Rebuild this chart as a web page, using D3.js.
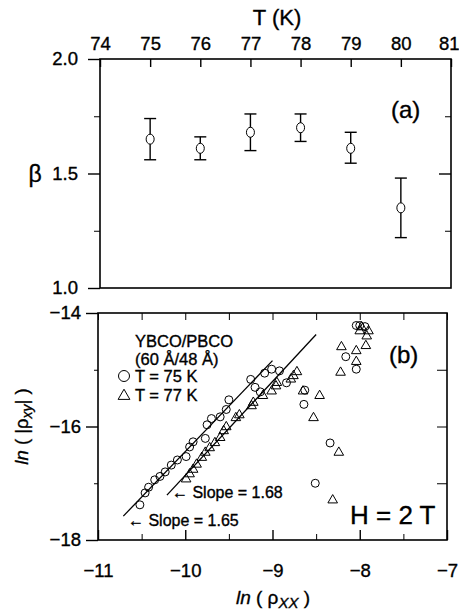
<!DOCTYPE html>
<html>
<head>
<meta charset="utf-8">
<script src="https://cdn.jsdelivr.net/npm/d3@7/dist/d3.min.js"></script>
<style>
  body { margin: 0; background: #fff; }
  svg { display: block; font-family: "Liberation Sans", Arial, sans-serif; }
  svg text { stroke: #000; stroke-width: 0.35px; fill: #000; }
</style>
</head>
<body>
<svg width="459" height="614"></svg>
<script>
// panel (a): beta vs temperature
const temps = [75, 76, 77, 78, 79, 80];
const beta = [1.65, 1.61, 1.68, 1.70, 1.61, 1.35];
const betaHigh = [1.74, 1.66, 1.76, 1.76, 1.68, 1.48];
const betaLow = [1.56, 1.56, 1.60, 1.64, 1.545, 1.22];
const tempTicks = [74, 75, 76, 77, 78, 79, 80, 81];
const betaTicks = [1.0, 1.5, 2.0];
const betaMinor = [1.25, 1.75];

// panel (b): ln|rho_xy| vs ln rho_xx
const x75 = [-10.52, -10.46, -10.42, -10.35, -10.29, -10.23, -10.16, -10.09, -9.99, -9.95, -9.91,
  -9.77, -9.75, -9.70, -9.60, -9.53, -9.50, -9.25, -9.20, -9.14, -9.09, -9.01, -8.92, -8.84,
  -8.63, -8.64, -8.51, -8.34, -8.16, -8.04, -8.04, -8.00, -7.94];
const y75 = [-17.38, -17.17, -17.07, -16.94, -16.88, -16.80, -16.68, -16.59, -16.53, -16.36, -16.27,
  -16.21, -15.97, -15.86, -15.83, -15.70, -15.53, -15.17, -15.31, -15.39, -15.06, -14.99, -15.02, -15.23,
  -15.36, -15.61, -17.00, -16.29, -14.77, -14.99, -14.22, -14.22, -14.24];
const x77 = [-9.99, -9.95, -9.91, -9.87, -9.81, -9.77, -9.72, -9.66, -9.60, -9.56, -9.53, -9.42,
  -9.38, -9.24, -9.22, -9.11, -9.01, -8.96, -8.95, -8.79, -8.76, -8.72, -8.65, -8.46, -8.53,
  -8.24, -8.31, -8.21, -8.04, -7.93, -8.04, -8.22, -8.00, -7.92, -7.90, -7.98];
const y77 = [-16.91, -16.82, -16.74, -16.65, -16.53, -16.44, -16.36, -16.27, -16.18, -16.06, -15.99, -15.83,
  -15.78, -15.62, -15.56, -15.44, -15.36, -15.27, -15.21, -15.15, -15.09, -15.02, -15.36, -15.44, -15.83,
  -16.44, -17.28, -14.58, -14.65, -14.56, -14.84, -15.03, -14.30, -14.39, -14.30, -14.23];
const fitX = [[-10.71, -9.0], [-10.21, -8.50]];
const fitY = [[-17.58, -14.84], [-17.21, -14.38]];
const fitLabels = ["\u2190 Slope = 1.65", "\u2190 Slope = 1.68"];
const rxxTicks = [-11, -10, -9, -8, -7];
const rxxMinor = [-10.5, -9.5, -8.5, -7.5];
const rxyTicks = [-14, -16, -18];
const rxyMinor = [-15, -17];

const svg = d3.select("svg");

function styleText(g, size) {
  g.selectAll("text").attr("font-size", size).attr("font-family", null).attr("fill", "#000");
}

// ---------- panel (a) ----------
const xa = d3.scaleLinear().domain([74, 81]).range([100, 451]);
const ya = d3.scaleLinear().domain([1, 2]).range([288, 59]);

const ga = svg.append("g");
ga.append("rect")
  .attr("x", xa(74)).attr("y", ya(2))
  .attr("width", xa(81) - xa(74)).attr("height", ya(1) - ya(2))
  .attr("fill", "none").attr("stroke", "#000").attr("stroke-width", 1.6);

// top axis, ticks inside
ga.append("g")
  .attr("transform", `translate(0,${ya(2)})`)
  .call(d3.axisTop(xa).tickValues(tempTicks).tickSize(-8).tickPadding(9).tickFormat(d3.format("d")))
  .call(g => g.select(".domain").remove())
  .call(g => g.selectAll("line").attr("stroke-width", 1.4))
  .call(g => styleText(g, 18.5))
  .call(g => g.selectAll("text").filter(d => d === 81).attr("text-anchor", "end").attr("x", 8));

// left axis, ticks outside
ga.append("g")
  .attr("transform", `translate(${xa(74)},0)`)
  .call(d3.axisLeft(ya).tickValues(betaTicks).tickSize(12).tickPadding(10).tickFormat(d3.format(".1f")))
  .call(g => g.select(".domain").remove())
  .call(g => g.selectAll("line").attr("stroke-width", 1.4))
  .call(g => styleText(g, 18.5));
ga.append("g")
  .attr("transform", `translate(${xa(74)},0)`)
  .call(d3.axisLeft(ya).tickValues(betaMinor).tickSize(6).tickFormat(""))
  .call(g => g.select(".domain").remove());

// right axis, ticks inside
ga.append("g")
  .attr("transform", `translate(${xa(81)},0)`)
  .call(d3.axisRight(ya).tickValues([1.5]).tickSize(-12).tickFormat(""))
  .call(g => g.select(".domain").remove())
  .call(g => g.selectAll("line").attr("stroke-width", 1.4));
ga.append("g")
  .attr("transform", `translate(${xa(81)},0)`)
  .call(d3.axisRight(ya).tickValues(betaMinor).tickSize(-6).tickFormat(""))
  .call(g => g.select(".domain").remove());

// error bars
const pts = temps.map((t, i) => ({ t, b: beta[i], hi: betaHigh[i], lo: betaLow[i] }));
const eb = ga.selectAll(".eb").data(pts).enter().append("g").attr("class", "eb")
  .attr("stroke", "#000").attr("stroke-width", 1.4).attr("fill", "none");
eb.append("line").attr("x1", d => xa(d.t)).attr("x2", d => xa(d.t))
  .attr("y1", d => ya(d.hi)).attr("y2", d => ya(d.lo));
eb.append("line").attr("x1", d => xa(d.t) - 6).attr("x2", d => xa(d.t) + 6)
  .attr("y1", d => ya(d.hi)).attr("y2", d => ya(d.hi));
eb.append("line").attr("x1", d => xa(d.t) - 6).attr("x2", d => xa(d.t) + 6)
  .attr("y1", d => ya(d.lo)).attr("y2", d => ya(d.lo));
eb.append("ellipse").attr("cx", d => xa(d.t)).attr("cy", d => ya(d.b))
  .attr("rx", 4).attr("ry", 5).attr("fill", "#fff").attr("stroke-width", 1);

svg.append("text").attr("x", 277).attr("y", 25).attr("text-anchor", "middle")
  .attr("font-size", 22).text("T (K)");
svg.append("text").attr("x", 35).attr("y", ya(1.5)).attr("text-anchor", "middle")
  .attr("dominant-baseline", "central").attr("font-size", 23).text("β");
svg.append("text").attr("x", 391).attr("y", 118).attr("font-size", 24).text("(a)");

// ---------- panel (b) ----------
const xb = d3.scaleLinear().domain([-11, -7]).range([98, 447]);
const yb = d3.scaleLinear().domain([-18, -14]).range([540, 313]);

const gb = svg.append("g");
gb.append("rect")
  .attr("x", xb(-11)).attr("y", yb(-14))
  .attr("width", xb(-7) - xb(-11)).attr("height", yb(-18) - yb(-14))
  .attr("fill", "none").attr("stroke", "#000").attr("stroke-width", 1.6);

// bottom axis, ticks inside
gb.append("g")
  .attr("transform", `translate(0,${yb(-18)})`)
  .call(d3.axisBottom(xb).tickValues(rxxTicks).tickSize(-10).tickPadding(24).tickFormat(d3.format("d")))
  .call(g => g.select(".domain").remove())
  .call(g => g.selectAll("line").attr("stroke-width", 1.4))
  .call(g => styleText(g, 18.5));
gb.append("g")
  .attr("transform", `translate(0,${yb(-18)})`)
  .call(d3.axisBottom(xb).tickValues(rxxMinor).tickSize(-6).tickFormat(""))
  .call(g => g.select(".domain").remove());
// top axis, ticks inside
gb.append("g")
  .attr("transform", `translate(0,${yb(-14)})`)
  .call(d3.axisTop(xb).tickValues(rxxTicks.concat(rxxMinor)).tickSize(-7).tickFormat(""))
  .call(g => g.select(".domain").remove());

// left axis, ticks outside
gb.append("g")
  .attr("transform", `translate(${xb(-11)},0)`)
  .call(d3.axisLeft(yb).tickValues(rxyTicks).tickSize(12).tickPadding(5).tickFormat(d3.format("d")))
  .call(g => g.select(".domain").remove())
  .call(g => g.selectAll("line").attr("stroke-width", 1.4))
  .call(g => styleText(g, 18.5));
gb.append("g")
  .attr("transform", `translate(${xb(-11)},0)`)
  .call(d3.axisLeft(yb).tickValues(rxyMinor).tickSize(4).tickFormat(""))
  .call(g => g.select(".domain").remove());
// right axis, ticks inside
gb.append("g")
  .attr("transform", `translate(${xb(-7)},0)`)
  .call(d3.axisRight(yb).tickValues([-15, -16, -17]).tickSize(-10).tickFormat(""))
  .call(g => g.select(".domain").remove());

// fit lines
gb.selectAll(".fit").data(fitX).enter().append("line").attr("class", "fit")
  .attr("x1", d => xb(d[0])).attr("x2", d => xb(d[1]))
  .attr("y1", (d, i) => yb(fitY[i][0])).attr("y2", (d, i) => yb(fitY[i][1]))
  .attr("stroke", "#000").attr("stroke-width", 1.3);

// data
const circ = x75.map((x, i) => [x, y75[i]]);
const tri = x77.map((x, i) => [x, y77[i]]);
const triSym = d3.symbol().type(d3.symbolTriangle).size(40);

gb.selectAll(".c75").data(circ).enter().append("circle").attr("class", "c75")
  .attr("cx", d => xb(d[0])).attr("cy", d => yb(d[1])).attr("r", 4)
  .attr("fill", "none").attr("stroke", "#000").attr("stroke-width", 1);
gb.selectAll(".t77").data(tri).enter().append("path").attr("class", "t77")
  .attr("transform", d => `translate(${xb(d[0])},${yb(d[1]) + 1})`)
  .attr("d", triSym).attr("fill", "none").attr("stroke", "#000").attr("stroke-width", 1);

// legend
const leg = svg.append("g").attr("font-size", 16.5);
leg.append("text").attr("x", 135).attr("y", 347).text("YBCO/PBCO");
leg.append("text").attr("x", 135).attr("y", 365).text("(60 Å/48 Å)");
leg.append("circle").attr("cx", 124).attr("cy", 376).attr("r", 5.5)
  .attr("fill", "none").attr("stroke", "#000").attr("stroke-width", 1);
leg.append("text").attr("x", 135).attr("y", 382).text("T = 75 K");
leg.append("path").attr("transform", "translate(124,396)")
  .attr("d", d3.symbol().type(d3.symbolTriangle).size(60))
  .attr("fill", "none").attr("stroke", "#000").attr("stroke-width", 1);
leg.append("text").attr("x", 135).attr("y", 401).text("T = 77 K");

// slope labels
svg.append("text").attr("x", 128).attr("y", 526).attr("font-size", 16).text(fitLabels[0]);
svg.append("text").attr("x", 172).attr("y", 498).attr("font-size", 16).text(fitLabels[1]);

svg.append("text").attr("x", 389).attr("y", 363).attr("font-size", 24).text("(b)");
svg.append("text").attr("x", 350).attr("y", 524).attr("font-size", 26).text("H = 2 T");

// axis titles
const xt = svg.append("text").attr("x", 273).attr("y", 604).attr("text-anchor", "middle").attr("font-size", 19);
xt.append("tspan").attr("font-style", "italic").text("ln");
xt.append("tspan").text(" ( ρ");
xt.append("tspan").attr("font-style", "italic").attr("font-size", 15).attr("dy", 4).text("XX");
xt.append("tspan").attr("dy", -4).text(" )");

const yt = svg.append("text").attr("transform", `translate(28,${yb(-16)}) rotate(-90)`)
  .attr("text-anchor", "middle").attr("font-size", 18.5);
yt.append("tspan").attr("font-style", "italic").text("ln");
yt.append("tspan").text(" ( |ρ");
yt.append("tspan").attr("font-style", "italic").attr("font-size", 14).attr("dy", 4).text("xy");
yt.append("tspan").attr("dy", -4).text("| )");
</script>
</body>
</html>
